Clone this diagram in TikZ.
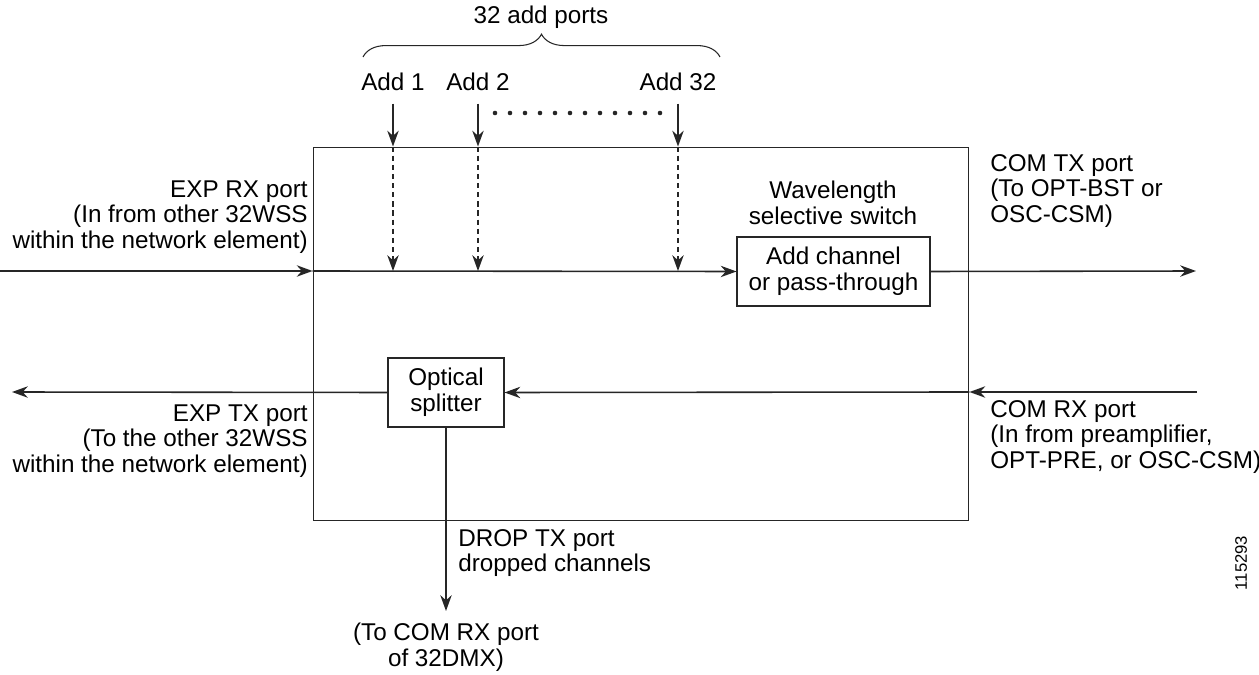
\documentclass[tikz,border=0pt]{standalone}
\usepackage{fontspec}
\setmainfont{Liberation Sans}
\usetikzlibrary{arrows.meta,positioning,decorations.pathreplacing}

\tikzset{
  sig/.style={line width=0.9pt,draw=black!85,-{Stealth[length=9pt,width=6.5pt]}},
  dsig/.style={sig,dash pattern=on 3pt off 2.2pt},
  blk/.style={draw=black!85,line width=0.6pt,align=center,inner sep=0pt},
  lbl/.style={font=\fontsize{13.8}{14.6}\selectfont,inner sep=0pt},
}

\begin{document}
\begin{tikzpicture}[x=0.02cm,y=-0.02cm]
	\useasboundingbox (0,0) rectangle (1259,675);
	% card outline and inner blocks
	\node[blk,minimum width=13.12cm,minimum height=7.48cm] (card) at (641,334) {};
	\node[blk,lbl,minimum width=3.86cm,minimum height=1.38cm] (wss) at (833.5,271.5) {Add channel\\or pass-through};
	\node[blk,lbl,minimum width=2.32cm,minimum height=1.38cm] (split) at (446,392.5) {Optical\\splitter};
	\node[lbl,align=center] (wsslbl) at (833,203) {Wavelength\\selective switch};
	% free ends
	\coordinate (expin) at (0,271);
	\coordinate (comtx) at (1196,271);
	\coordinate (comrx) at (1197,392);
	\coordinate (expout) at (12,392);
	\coordinate (drop) at (446,611);
	% signal path
	\draw[sig] (expin) -- (card.west |- expin);
	\draw[sig] (card.west |- expin) -- (wss.west);
	\draw[sig] (wss.east) -- (comtx);
	\draw[sig] (comrx) -- (card.east |- comrx);
	\draw[sig] (card.east |- comrx) -- (split.east);
	\draw[sig] (split.west) -- (expout);
	\draw[sig] (split.south) -- (drop);
	% add ports
	\foreach \x/\n in {393/1,478/2,678/32}{
		\node[lbl] (add\n) at (\x,82) {Add \n};
		\draw[sig] ([yshift=-7pt]add\n.south) -- (add\n |- card.north);
		\draw[dsig] (add\n |- card.north) -- (add\n |- expin);
	}
	\foreach \i in {0,...,11}
		\fill[black!85] (495+\i*15,113) circle (1.3pt);
	\draw[black!85,line width=0.6pt,decorate,decoration={brace,amplitude=13pt}] (363,57) -- (720,57);
	\node[lbl] (ports) at (541,17) {32 add ports};
	% port labels
	\node[lbl,anchor=east,align=right] (exprx) at (308,217) {EXP RX port\\(In from other 32WSS\\within the network element)};
	\node[lbl,anchor=east,align=right] (exptx) at (308,441) {EXP TX port\\(To the other 32WSS\\within the network element)};
	\node[lbl,anchor=west,align=left] (comtxlbl) at (990,191) {COM TX port\\(To OPT-BST or\\OSC-CSM)};
	\node[lbl,anchor=west,align=left] (comrxlbl) at (990,437) {COM RX port\\(In from preamplifier,\\OPT-PRE, or OSC-CSM)};
	\node[lbl,anchor=west,align=left] (droplbl) at (458,553) {DROP TX port\\dropped channels};
	\node[lbl,align=center] (dmx) at (446,647) {(To COM RX port\\of 32DMX)};
	\node[font=\fontsize{9.5}{10}\selectfont,rotate=90,inner sep=0pt] (fig) at (1241,563) {115293};
\end{tikzpicture}
\end{document}
